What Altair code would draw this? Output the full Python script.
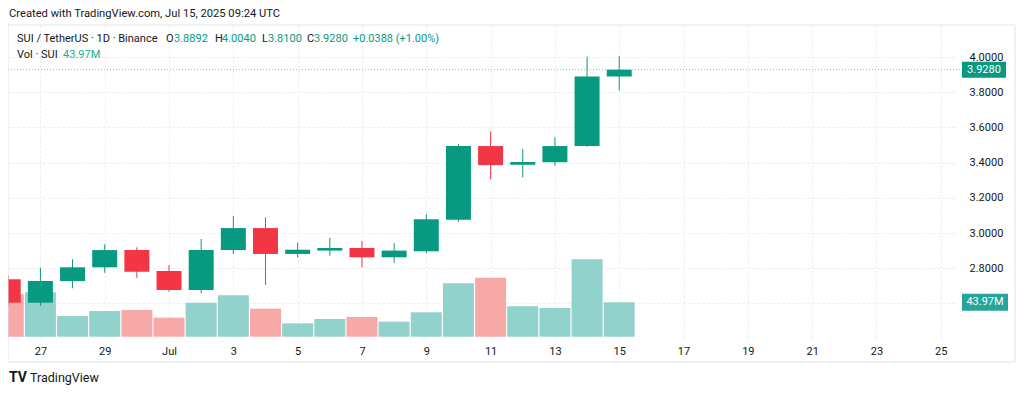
import altair as alt
import pandas as pd

# ---------------- data ----------------
dates = ["2025-06-26", "2025-06-27", "2025-06-28", "2025-06-29", "2025-06-30",
         "2025-07-01", "2025-07-02", "2025-07-03", "2025-07-04", "2025-07-05",
         "2025-07-06", "2025-07-07", "2025-07-08", "2025-07-09", "2025-07-10",
         "2025-07-11", "2025-07-12", "2025-07-13", "2025-07-14", "2025-07-15"]
opens = [2.737, 2.604, 2.727, 2.805, 2.903, 2.784, 2.676, 2.903, 3.028, 2.881,
         2.900, 2.915, 2.862, 2.896, 3.075, 3.494, 3.388, 3.402, 3.494, 3.8892]
highs = [2.760, 2.803, 2.851, 2.936, 2.919, 2.818, 2.966, 3.097, 3.089, 2.945,
         2.973, 2.955, 2.942, 3.106, 3.504, 3.576, 3.477, 3.544, 4.002, 4.0040]
lows = [2.590, 2.585, 2.686, 2.774, 2.744, 2.667, 2.657, 2.881, 2.705, 2.862,
        2.871, 2.805, 2.831, 2.885, 3.064, 3.305, 3.316, 3.382, 3.490, 3.8100]
closes = [2.604, 2.727, 2.805, 2.903, 2.780, 2.676, 2.903, 3.028, 2.881, 2.905,
          2.915, 2.862, 2.900, 3.078, 3.494, 3.386, 3.403, 3.494, 3.8892, 3.9280]
volumes_m = [54.2, 56.7, 26.4, 32.8, 34.1, 24.3, 43.5, 52.9, 35.8, 17.1,
             22.6, 25.2, 19.2, 31.2, 68.3, 75.4, 38.9, 36.7, 98.9, 43.97]

tick_days = [(6, 27), (6, 29), (7, 1), (7, 3), (7, 5), (7, 7), (7, 9), (7, 11),
             (7, 13), (7, 15), (7, 17), (7, 19), (7, 21), (7, 23), (7, 25)]
price_ticks = [2.6, 2.8, 3.0, 3.2, 3.4, 3.6, 3.8, 4.0]

df = pd.DataFrame(dict(date=dates, open=opens, high=highs, low=lows,
                       close=closes, volume=volumes_m))
last = df.iloc[[-1]].reset_index(drop=True)
one = pd.DataFrame({"k": [0]})

# ---------------- style ----------------
FONT = "Roboto"
DARK = "#131722"
GREEN = "#089981"
RED = "#F23645"
VGREEN = "#92d2cc"
VRED = "#f7a9a7"
LABEL_GREEN = "#22ab94"
GRID = "#eceef2"
W, H = 947, 315

up = "datum.close >= datum.open"

x_enc = alt.X(
    "date:T",
    title=None,
    scale=alt.Scale(type="utc", domain=[
        alt.DateTime(year=2025, month=6, date=26, hours=3, minutes=33, utc=True),
        alt.DateTime(year=2025, month=7, date=25, hours=6, minutes=52, utc=True)]),
    axis=alt.Axis(
        values=[alt.DateTime(year=2025, month=m, date=d, utc=True) for m, d in tick_days],
        labelExpr="utcdate(datum.value) == 1 ? 'Jul' : '' + utcdate(datum.value)",
        grid=True, gridColor=GRID, gridDash=[3, 2], domain=False, ticks=False,
        labelFont=FONT, labelFontSize=11, labelColor=DARK, labelPadding=5,
        labelAngle=0),
)

pscale = alt.Scale(domain=[2.39205, 4.18182], nice=False, zero=False)
paxis = alt.Axis(orient="right", values=price_ticks,
                 labelExpr="datum.value < 2.7 ? '' : format(datum.value, '.4f')",
                 grid=True, gridColor=GRID, gridDash=[3, 2], domain=False, ticks=False,
                 labelFont=FONT, labelFontSize=11, labelColor=DARK, labelPadding=14)
vscale = alt.Scale(domain=[-4.22, 398.4], nice=False, zero=False)

# ---------------- volume ----------------
volbars = alt.Chart(df).mark_bar(size=31, clip=True).encode(
    x=x_enc,
    y=alt.Y("volume:Q", scale=vscale, axis=None, title=None),
    y2=alt.datum(0),
    color=alt.condition(up, alt.value(VGREEN), alt.value(VRED)),
)
volbox = alt.Chart(last).mark_rect(color="#26a69a", yOffset=-8.5, y2Offset=8.5).encode(
    x=alt.value(954), x2=alt.value(1000),
    y=alt.Y("volume:Q", scale=vscale, axis=None, title=None),
    y2=alt.Y2("volume:Q"),
)
voltext = alt.Chart(last).mark_text(color="white", font=FONT, fontSize=11,
                                    align="center", baseline="middle").encode(
    x=alt.value(977),
    y=alt.Y("volume:Q", scale=vscale, axis=None, title=None),
    text=alt.value(f"{volumes_m[-1]:.2f}M"),
)
vol_group = alt.layer(volbars, volbox, voltext)

# ---------------- price ----------------
wicks = alt.Chart(df).mark_rule(strokeWidth=1, clip=True).encode(
    x=x_enc,
    y=alt.Y("low:Q", scale=pscale, axis=paxis, title=None),
    y2="high:Q",
    color=alt.condition(up, alt.value(GREEN), alt.value(RED)),
)
bodies = alt.Chart(df).mark_bar(size=25, clip=True).encode(
    x=x_enc,
    y=alt.Y("open:Q", scale=pscale, axis=paxis, title=None),
    y2="close:Q",
    color=alt.condition(up, alt.value(GREEN), alt.value(RED)),
)
lastline = alt.Chart(last).mark_rule(color=GREEN, opacity=0.55, strokeDash=[1, 2],
                                     strokeWidth=1).encode(
    x=alt.value(0), x2=alt.value(954),
    y=alt.Y("close:Q", scale=pscale, axis=paxis, title=None),
)
pricebox = alt.Chart(last).mark_rect(color=GREEN, yOffset=-8, y2Offset=8).encode(
    x=alt.value(954), x2=alt.value(998),
    y=alt.Y("close:Q", scale=pscale, axis=paxis, title=None),
    y2=alt.Y2("close:Q"),
)
pricetext = alt.Chart(last).mark_text(color="white", font=FONT, fontSize=11,
                                      align="center", baseline="middle").encode(
    x=alt.value(976),
    y=alt.Y("close:Q", scale=pscale, axis=paxis, title=None),
    text=alt.value(f"{closes[-1]:.4f}"),
)

border = alt.Chart(one).mark_rect(filled=False, stroke="#e0e3eb", strokeWidth=1).encode(
    x=alt.value(0), x2=alt.value(1007), y=alt.value(0), y2=alt.value(337))


def txt(s, x, y, color=DARK, size=11, weight="normal"):
    return alt.Chart(one).mark_text(text=s, color=color, font=FONT, fontSize=size,
                                    fontWeight=weight, align="left",
                                    baseline="middle").encode(
        x=alt.value(x), y=alt.value(y))


chg = closes[-1] - closes[-2]
pct = chg / closes[-2] * 100
headers = [
    txt("Created with TradingView.com, Jul 15, 2025 09:24 UTC", 1, -11, size=11.2),
    txt("SUI / TetherUS · 1D · Binance", 9, 14),
    txt("O", 158, 14), txt(f"{opens[-1]:.4f}", 166, 14, GREEN),
    txt("H", 207, 14), txt(f"{highs[-1]:.4f}", 214, 14, GREEN),
    txt("L", 254, 14), txt(f"{lows[-1]:.4f}", 260, 14, GREEN),
    txt("C", 299, 14), txt(f"{closes[-1]:.4f}", 306, 14, GREEN),
    txt(f"{chg:+.4f} ({pct:+.2f}%)", 345, 14, GREEN),
    txt("Vol · SUI", 9, 30), txt(f"{volumes_m[-1]:.2f}M", 55, 30, LABEL_GREEN),
    txt("TV", 1, 353, DARK, 14, "bold"),
    txt("TradingView", 22, 353, DARK, 12.5),
]

price_group = alt.layer(wicks, bodies, lastline, pricebox, pricetext, border, *headers)

chart = alt.layer(vol_group, price_group).resolve_scale(y="independent").properties(
    width=W, height=H,
    autosize=alt.AutoSizeParams(type="none"),
    padding={"left": 0, "top": 17, "right": 61, "bottom": 47},
).configure_view(stroke=None)

chart.save("out.html", embed_options={"renderer": "svg", "actions": False})
